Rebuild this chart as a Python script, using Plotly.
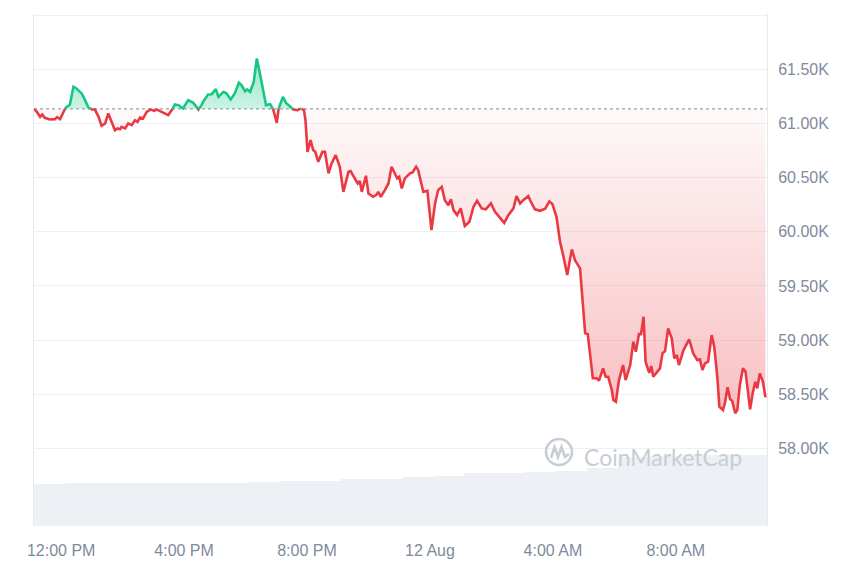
import pandas as pd
import plotly.graph_objects as go

# ---------------- data ----------------
START = "2024-08-11 11:07"
minutes = [0,6,12,16,21,31,41,45,51,57,
           62,70,77,83,93,98,106,113,119,126,
           132,139,145,152,158,163,168,171,178,184,
           191,197,202,207,213,220,228,234,240,246,
           256,262,269,275,282,291,301,311,321,327,
           332,340,347,355,360,370,376,384,392,400,
           405,412,416,422,429,435,441,448,453,461,
           467,474,477,486,492,500,506,514,521,527,
           530,534,540,545,549,555,563,568,575,581,
           589,597,604,614,618,627,632,636,640,648,
           653,662,668,672,677,685,692,698,705,709,
           713,718,724,734,739,746,750,756,760,768,
           776,783,789,796,802,809,814,819,826,833,
           841,850,858,865,874,882,892,900,910,918,
           926,936,942,949,955,965,970,978,988,998,
           1006,1012,1020,1027,1033,1041,1050,1056,1066,1076,
           1081,1091,1099,1103,1111,1116,1121,1128,1131,1136,
           1142,1150,1155,1164,1170,1175,1181,1185,1190,1194,
           1201,1205,1209,1222,1227,1232,1238,1245,1250,1255,
           1259,1268,1279,1287,1295,1300,1305,1310,1316,1323,
           1328,1334,1338,1345,1349,1354,1359,1363,1369,1373,
           1378,1384,1389,1393,1398,1403,1408,1412,1417,1423,
           1428]
prices = [61135,61104,61061,61083,61052,61037,61040,61058,61040,61107,
          61146,61173,61338,61323,61277,61231,61148,61130,61128,61061,
          60978,61000,61092,61015,60938,60954,60947,60969,60954,61000,
          60984,61030,61015,61055,61046,61107,61130,61116,61128,61113,
          61086,61077,61123,61175,61169,61138,61215,61190,61129,61169,
          61215,61268,61270,61316,61245,61292,61277,61221,61277,61375,
          61353,61298,61314,61292,61384,61600,61461,61277,61169,61178,
          61129,61006,61129,61245,61190,61160,61129,61123,61138,61123,
          61030,60738,60846,60754,60738,60646,60738,60738,60539,60631,
          60708,60600,60369,60554,60560,60493,60446,60468,60369,60517,
          60354,60323,60339,60369,60323,60385,60446,60600,60539,60493,
          60507,60400,60493,60539,60548,60600,60569,60446,60369,60378,
          60016,60262,60385,60415,60292,60246,60299,60200,60154,60216,
          60053,60092,60231,60286,60216,60207,60262,60185,60124,60083,
          60154,60216,60329,60262,60292,60329,60277,60207,60194,60214,
          60279,60256,60138,59905,59785,59601,59838,59739,59662,59063,
          59056,58648,58648,58626,58740,58662,58662,58540,58447,58432,
          58632,58770,58632,58770,58985,58893,59056,59056,59216,58801,
          58699,58761,58662,58740,58878,58899,59109,59017,58832,58863,
          58770,58909,59007,58878,58816,58823,58724,58786,58801,59047,
          58939,58662,58386,58355,58423,58565,58454,58441,58325,58355,
          58586,58740,58709,58555,58362,58509,58616,58555,58694,58616,
          58472]

# hourly volume (USD billions), one value per hour from START
volume_hours = list(range(24))
volume_b = [20.4, 20.8, 21.1, 21.1, 21.1, 21.2, 21.2, 21.3, 22.0, 22.2,
            22.8, 23.0, 24.1, 24.6, 25.7, 26.0, 26.5, 26.8, 28.3, 33.5,
            34.2, 34.7, 34.7, 34.9]

y_tick_vals = [58000, 58500, 59000, 59500, 60000, 60500, 61000, 61500, 62000]
y_tick_text = ["58.00K", "58.50K", "59.00K", "59.50K", "60.00K", "60.50K", "61.00K", "61.50K", ""]
x_tick_times = ["2024-08-11 12:00", "2024-08-11 16:00", "2024-08-11 20:00",
                "2024-08-12 00:00", "2024-08-12 04:00", "2024-08-12 08:00"]
x_tick_text = ["12:00 PM", "4:00 PM", "8:00 PM", "12 Aug", "4:00 AM", "8:00 AM"]

# ---------------- styling ----------------
RED = "#ea3943"
GREEN = "#16c784"
TXT = "#808a9d"
GRID = "#eef0f3"
FONT = "Liberation Sans, Arial, sans-serif"

t0 = pd.Timestamp(START)
base = prices[0]

# split at baseline crossings
pts_m, pts_p = [], []
for i in range(len(minutes)):
    if i > 0:
        p0, p1 = prices[i - 1], prices[i]
        if (p0 - base) * (p1 - base) < 0:
            f = (base - p0) / (p1 - p0)
            pts_m.append(minutes[i - 1] + f * (minutes[i] - minutes[i - 1]))
            pts_p.append(base)
    pts_m.append(minutes[i])
    pts_p.append(prices[i])

tx = [t0 + pd.Timedelta(minutes=m) for m in pts_m]
up = [max(p, base) for p in pts_p]
dn = [min(p, base) for p in pts_p]
g_line = [p if p >= base else None for p in pts_p]
r_line = [p if p <= base else None for p in pts_p]
basel = [base] * len(pts_p)

fig = go.Figure()

# volume
vx = [t0 + pd.Timedelta(minutes=60 * h + 30) for h in volume_hours]
fig.add_trace(go.Bar(x=vx, y=volume_b, yaxis="y2", width=3600000,
                     marker=dict(color="#edf0f4", line=dict(width=0)),
                     hoverinfo="skip"))

# green fill
fig.add_trace(go.Scatter(x=tx, y=basel, mode="lines", line=dict(width=0), hoverinfo="skip"))
fig.add_trace(go.Scatter(x=tx, y=up, mode="lines", line=dict(width=0), fill="tonexty",
                         fillgradient=dict(type="vertical",
                                           colorscale=[[0, "rgba(22,199,132,0.22)"], [1, "rgba(22,199,132,0.42)"]],
                                           start=base, stop=max(prices)),
                         hoverinfo="skip"))
# red fill
fig.add_trace(go.Scatter(x=tx, y=basel, mode="lines", line=dict(width=0), hoverinfo="skip"))
fig.add_trace(go.Scatter(x=tx, y=dn, mode="lines", line=dict(width=0), fill="tonexty",
                         fillgradient=dict(type="vertical",
                                           colorscale=[[0, "rgba(234,57,67,0.32)"], [1, "rgba(234,57,67,0.03)"]],
                                           start=min(prices), stop=base),
                         hoverinfo="skip"))

# lines
fig.add_trace(go.Scatter(x=tx, y=r_line, mode="lines", line=dict(color=RED, width=2.6), connectgaps=False))
fig.add_trace(go.Scatter(x=tx, y=g_line, mode="lines", line=dict(color=GREEN, width=2.6), connectgaps=False))

# baseline dotted
fig.add_shape(type="line", xref="paper", x0=0, x1=1, y0=base, y1=base, yref="y",
              line=dict(color="#9aa1ad", width=1.3, dash="dot"), layer="below")

# watermark
L, R, T, B = 34, 767, 14, 526
def px(xp, yp):
    return ((xp - L) / (R - L), (B - yp) / (B - T))

WM = "#c8cdd5"
cx, cy, rr = 559, 452, 13
a = px(cx - rr, cy + rr); b = px(cx + rr, cy - rr)
fig.add_shape(type="circle", xref="paper", yref="paper", x0=a[0], y0=a[1], x1=b[0], y1=b[1],
              line=dict(color=WM, width=2.6), layer="above")
mpts = [(-8, 6), (-4.5, -5), (-1, 5), (2.5, -5), (6, 5), (10, 2)]
path = ""
for k, (dx, dy) in enumerate(mpts):
    q = px(cx + dx, cy + dy)
    path += ("M" if k == 0 else "L") + f"{q[0]:.5f},{q[1]:.5f} "
fig.add_shape(type="path", xref="paper", yref="paper", path=path.strip(),
              line=dict(color=WM, width=2.6), layer="above")
tp = px(662.5, 457)
fig.add_annotation(xref="paper", yref="paper", x=tp[0], y=tp[1], text="CoinMarketCap",
                   showarrow=False, xanchor="center", yanchor="middle",
                   font=dict(family="Lato, Liberation Sans, sans-serif", size=23, color=WM))

fig.update_layout(
    width=860, height=573,
    margin=dict(l=L, r=860 - R, t=T, b=573 - B),
    paper_bgcolor="white", plot_bgcolor="white",
    showlegend=False, bargap=0,
    xaxis=dict(type="date",
               range=[t0, t0 + pd.Timedelta(minutes=1431)],
               tickvals=x_tick_times, ticktext=x_tick_text,
               showgrid=False, zeroline=False, showline=False,
               ticks="outside", ticklen=10, tickcolor="rgba(0,0,0,0)",
               tickfont=dict(family=FONT, size=16, color=TXT)),
    yaxis=dict(side="right", range=[57285, 62010],
               tickvals=y_tick_vals, ticktext=y_tick_text,
               showgrid=True, gridcolor=GRID, gridwidth=1, zeroline=False,
               showline=True, mirror=True, linecolor="#e6e9ee", linewidth=1,
               ticks="outside", ticklen=7, tickcolor="rgba(0,0,0,0)",
               tickfont=dict(family=FONT, size=16, color=TXT)),
    yaxis2=dict(overlaying="y", range=[0, 250], visible=False),
)

fig.write_html("out.html", config={"displayModeBar": False},
               post_script="document.body.style.margin='0';")
